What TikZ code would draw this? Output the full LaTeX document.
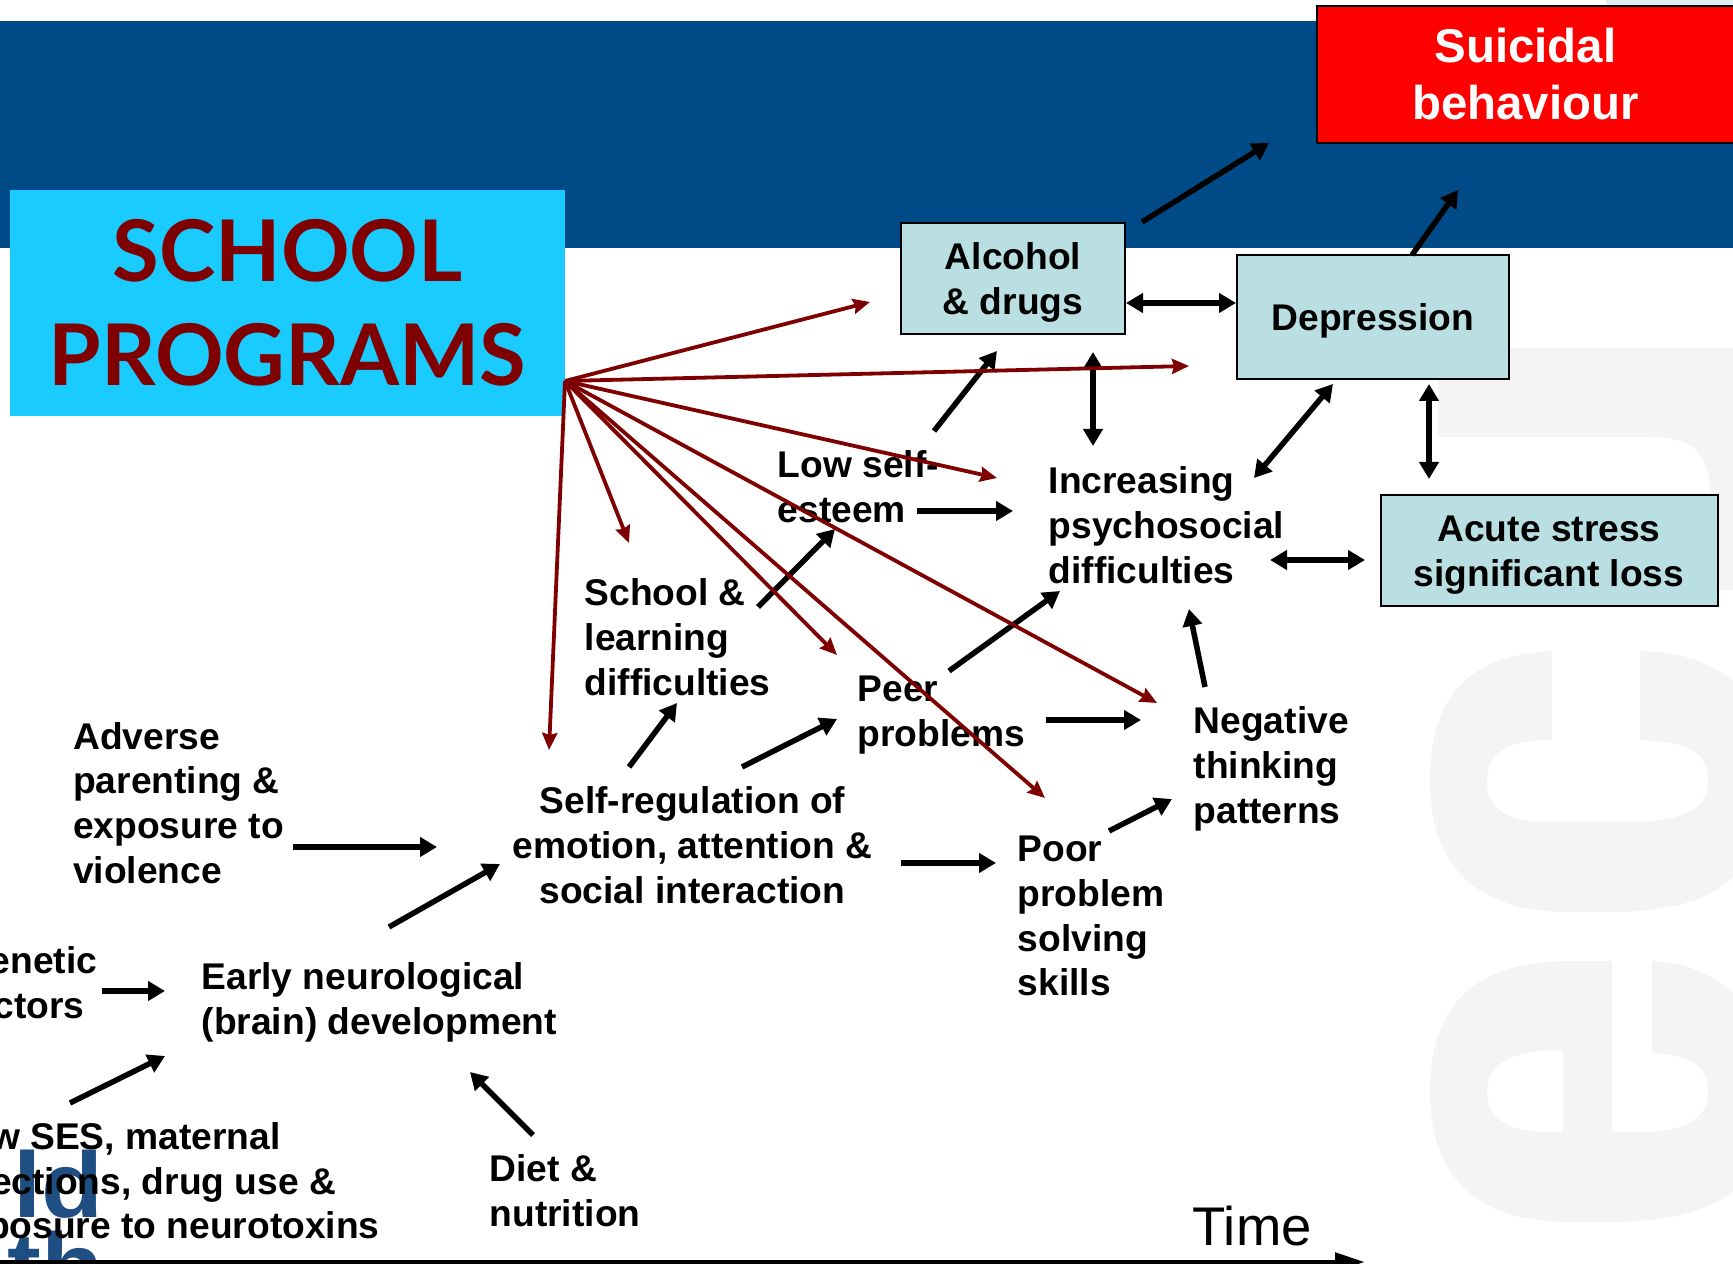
\documentclass[tikz,border=0pt]{standalone}
\usepackage{fontspec}
\setmainfont{Liberation Sans}
\newfontfamily\programfont{Lato}
\usetikzlibrary{arrows.meta}

\definecolor{bandblue}{HTML}{004B87}
\definecolor{schoolcyan}{HTML}{19CBFF}
\definecolor{boxteal}{HTML}{BADFE2}
\definecolor{logoblue}{HTML}{1F4E83}
\definecolor{markgrey}{HTML}{F4F4F4}
\definecolor{programred}{HTML}{7F0000}

\def\bodytext{\bfseries\fontsize{10.58}{12.75}\selectfont}
\def\boxstrut{\rule{0pt}{10.1pt}}
\def\logotext#1{\scalebox{1.09}[1]{#1}}

\tikzset{
	tealbox/.style={draw=black, line width=0.2mm, fill=boxteal, inner sep=0, align=center, font=\bodytext},
	textlabel/.style={inner sep=0, anchor=west, align=left, font=\bodytext},
	logopart/.style={inner sep=0, anchor=base east, color=logoblue, font=\bfseries\fontsize{26.5}{28}\selectfont},
	blackarrow/.style={line width=0.55mm, -{Triangle[length=1.7mm, width=1.9mm]}},
	bothways/.style={line width=0.55mm, {Triangle[length=1.7mm, width=1.9mm]}-{Triangle[length=1.7mm, width=1.9mm]}},
	redarrow/.style={line width=0.38mm, color=programred, -{Stealth[length=1.7mm, width=1.5mm, inset=0.2mm]}},
}

\begin{document}
\begin{tikzpicture}[x=0.1mm, y=-0.1mm]
			%%%%% START %%%%%
			
			\useasboundingbox (0, 0) rectangle (1733, 1264);
			\clip (0, 0) rectangle (1733, 1264);
			
			\fill[color=boxteal!50] (1606, 0) rectangle (1733, 5);
			\fill[color=bandblue] (0, 21) rectangle (1733, 248);
			
			\fill[color=markgrey] (1438, 348) -- (1733, 348) -- (1733, 590) -- (1710, 590) -- (1710, 495) .. controls (1710, 450) and (1690, 437) .. (1650, 437) -- (1438, 437) -- cycle;
			\fill[color=markgrey] (1552, 651) .. controls (1470, 655) and (1430, 695) .. (1430, 781) .. controls (1430, 870) and (1480, 912) .. (1570, 912) -- (1610, 912) .. controls (1670, 912) and (1710, 900) .. (1733, 877) -- (1733, 681) .. controls (1710, 662) and (1680, 652) .. (1640, 651) -- (1640, 740) .. controls (1685, 742) and (1708, 750) .. (1708, 781) .. controls (1708, 812) and (1680, 822) .. (1620, 822) -- (1550, 822) .. controls (1510, 822) and (1487, 812) .. (1487, 781) .. controls (1487, 750) and (1510, 740) .. (1552, 740) -- cycle;
			\fill[color=markgrey, even odd rule] (1612, 961) -- (1570, 961) .. controls (1480, 961) and (1430, 1000) .. (1430, 1092) .. controls (1430, 1180) and (1480, 1222) .. (1570, 1222) -- (1610, 1222) .. controls (1670, 1222) and (1710, 1210) .. (1733, 1191) -- (1733, 993) .. controls (1710, 973) and (1685, 963) .. (1652, 961) -- (1652, 1053) .. controls (1690, 1055) and (1708, 1065) .. (1708, 1092) .. controls (1708, 1122) and (1680, 1132) .. (1640, 1132) -- (1612, 1132) -- cycle (1563, 1051) -- (1550, 1051) .. controls (1510, 1051) and (1487, 1065) .. (1487, 1092) .. controls (1487, 1120) and (1510, 1132) .. (1550, 1132) -- (1563, 1132) -- cycle;
			
			\node[logopart] (logoworld) at (104, 1217) {\logotext{ld}};
			\node[logopart] (logohealth) at (104, 1298) {\logotext{lth}};
			
			\node[fill=schoolcyan, minimum width=55.5mm, minimum height=22.6mm, inner sep=0, align=center, text=programred, font=\programfont\bfseries\fontsize{24.2}{29.5}\selectfont] (programs) at (287.5, 303) {SCHOOL\\PROGRAMS};
			\node[draw=black, line width=0.2mm, fill=red, minimum width=41.8mm, minimum height=13.7mm, inner sep=0, align=center, text=white, font=\bfseries\fontsize{13.5}{16.2}\selectfont] (suicidal) at (1525.5, 74.5) {Suicidal\\behaviour};
			
			\node[tealbox, minimum width=22.4mm, minimum height=11.1mm] (alcohol) at (1013, 278.5) {\boxstrut Alcohol\\\& drugs};
			\node[tealbox, minimum width=27.2mm, minimum height=12.4mm] (depression) at (1373, 317) {\boxstrut Depression};
			\node[tealbox, minimum width=33.7mm, minimum height=11.1mm] (acute) at (1549, 550.5) {\boxstrut Acute stress\\significant loss};
			
			\node[textlabel] (esteem) at (777, 486.5) {Low self-\\esteem};
			\node[textlabel] (increasing) at (1048, 525) {Increasing\\psychosocial\\difficulties};
			\node[textlabel] (learning) at (584, 637) {School \&\\learning\\difficulties};
			\node[textlabel] (peer) at (857, 715) {Peer\\problems};
			\node[textlabel] (negative) at (1193, 769) {Negative\\thinking\\patterns};
			\node[textlabel] (adverse) at (72.5, 803) {Adverse\\parenting \&\\exposure to\\violence};
			\node[textlabel, align=center] (selfreg) at (512, 845) {Self-regulation of\\emotion, attention \&\\social interaction};
			\node[textlabel] (poor) at (1017, 916) {Poor\\problem\\solving\\skills};
			\node[textlabel] (neuro) at (201, 1002.5) {Early neurological\\(brain) development};
			\node[textlabel] (genetic) at (-40, 983) {Genetic\\factors};
			\node[textlabel] (ses) at (-55, 1184.5) {Low SES, maternal\\infections, drug use \&\\exposure to neurotoxins};
			\node[textlabel] (diet) at (489, 1191) {Diet \&\\nutrition};
			\node[inner sep=0, anchor=west, font=\fontsize{15.5}{18}\selectfont] (time) at (1192, 1226) {Time};
			
			\coordinate (axisstart) at (0, 1262);
			\coordinate (axisend) at (1365, 1262);
			\draw[line width=0.5mm, -{Triangle[length=3mm, width=1.8mm]}] (axisstart) -- (axisend);
			
			\coordinate (alcoholout) at (1142, 222);
			\coordinate (suicidalin) at (1269, 143);
			\draw[blackarrow] (alcoholout) -- (suicidalin);
			\coordinate (depressionout) at (1412, 255);
			\coordinate (suicidalinb) at (1458, 190);
			\draw[blackarrow] (depressionout) -- (suicidalinb);
			\coordinate (alcoholeast) at (1126, 303);
			\coordinate (depressionwest) at (1236, 303);
			\draw[bothways] (alcoholeast) -- (depressionwest);
			\coordinate (esteemup) at (934, 431);
			\coordinate (alcoholin) at (997, 351);
			\draw[blackarrow] (esteemup) -- (alcoholin);
			\coordinate (alcoholsouth) at (1093, 352);
			\coordinate (increasingnorth) at (1093, 446);
			\draw[bothways] (alcoholsouth) -- (increasingnorth);
			\coordinate (depressionsw) at (1333, 384);
			\coordinate (increasingne) at (1254, 478);
			\draw[bothways] (depressionsw) -- (increasingne);
			\coordinate (depressionsouth) at (1429, 384);
			\coordinate (acutenorth) at (1429, 479);
			\draw[bothways] (depressionsouth) -- (acutenorth);
			\coordinate (increasingeast) at (1270, 560);
			\coordinate (acutewest) at (1365, 560);
			\draw[bothways] (increasingeast) -- (acutewest);
			\coordinate (esteemout) at (917, 511);
			\coordinate (increasingin) at (1013, 511);
			\draw[blackarrow] (esteemout) -- (increasingin);
			\coordinate (learningout) at (758, 607);
			\coordinate (esteemin) at (835, 529);
			\draw[blackarrow] (learningout) -- (esteemin);
			\coordinate (selfregup) at (629, 767);
			\coordinate (learningin) at (677, 703);
			\draw[blackarrow] (selfregup) -- (learningin);
			\coordinate (selfregright) at (742, 767);
			\coordinate (peerin) at (837, 719);
			\draw[blackarrow] (selfregright) -- (peerin);
			\coordinate (peerup) at (949, 671);
			\coordinate (increasingsw) at (1060, 591);
			\draw[blackarrow] (peerup) -- (increasingsw);
			\coordinate (peerout) at (1046, 720);
			\coordinate (negativein) at (1141, 720);
			\draw[blackarrow] (peerout) -- (negativein);
			\coordinate (negativeup) at (1205, 687);
			\coordinate (increasingsouth) at (1189, 609);
			\draw[blackarrow] (negativeup) -- (increasingsouth);
			\coordinate (poorout) at (1109, 831);
			\coordinate (negativesw) at (1172, 799);
			\draw[blackarrow] (poorout) -- (negativesw);
			\coordinate (selfregout) at (901, 863);
			\coordinate (poorin) at (996, 863);
			\draw[blackarrow] (selfregout) -- (poorin);
			\coordinate (adverseout) at (293, 847);
			\coordinate (selfregwest) at (437, 847);
			\draw[blackarrow] (adverseout) -- (selfregwest);
			\coordinate (neuroout) at (389, 927);
			\coordinate (selfregsw) at (500, 864);
			\draw[blackarrow] (neuroout) -- (selfregsw);
			\coordinate (geneticout) at (102, 991);
			\coordinate (neurowest) at (165, 991);
			\draw[blackarrow] (geneticout) -- (neurowest);
			\coordinate (sesout) at (70, 1103);
			\coordinate (neurosw) at (165, 1056);
			\draw[blackarrow] (sesout) -- (neurosw);
			\coordinate (dietout) at (533, 1135);
			\coordinate (neurosouth) at (470, 1072);
			\draw[blackarrow] (dietout) -- (neurosouth);
			
			\coordinate (programsfan) at (565, 381);
			\coordinate (fanalcohol) at (870, 302);
			\coordinate (fandepression) at (1189, 366);
			\coordinate (fanincreasing) at (997, 478);
			\coordinate (fannegative) at (1157, 703);
			\coordinate (fanpoor) at (1045, 798);
			\coordinate (fanpeer) at (837, 655);
			\coordinate (fanlearning) at (629, 543);
			\coordinate (fanselfreg) at (549, 750);
			\foreach \fantip in {fanalcohol, fandepression, fanincreasing, fannegative, fanpoor, fanpeer, fanlearning, fanselfreg}
				\draw[redarrow] (programsfan) -- (\fantip);
			
			%%%%% END %%%%%
		\end{tikzpicture}
\end{document}
